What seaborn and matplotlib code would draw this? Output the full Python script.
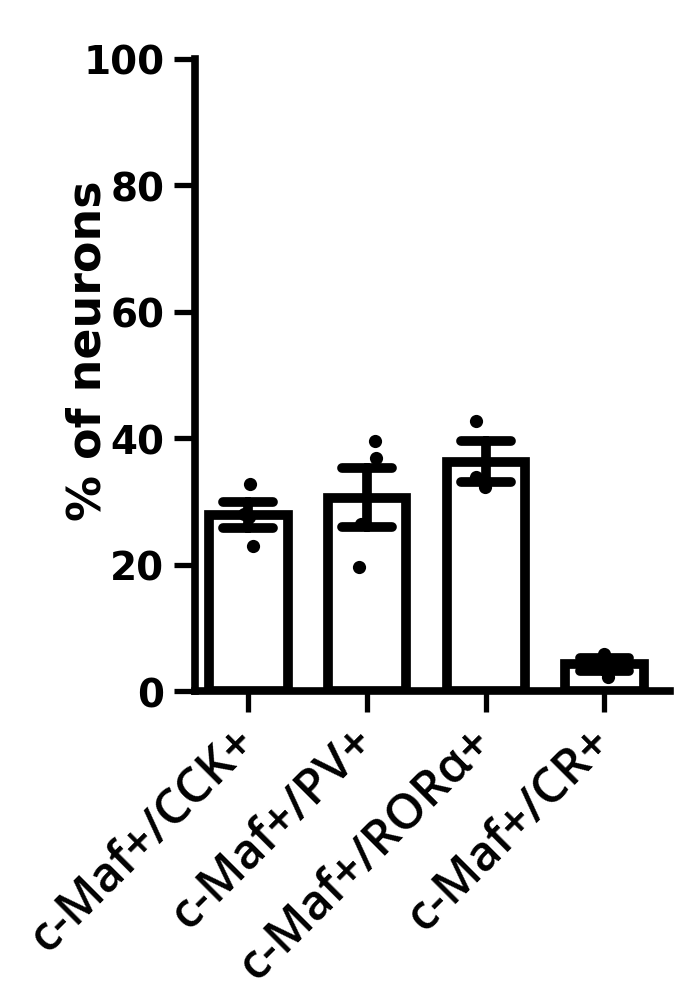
import numpy as np
import pandas as pd
import matplotlib
matplotlib.use("Agg")
import matplotlib.pyplot as plt
import matplotlib.transforms as mtransforms
import seaborn as sns

categories = ["c-Maf+/CCK+", "c-Maf+/PV+", "c-Maf+/RORα+", "c-Maf+/CR+"]
cck_values = [32.8, 23.0, 28.0, 27.5]
pv_values = [39.5, 36.8, 19.6, 26.5]
ror_values = [42.7, 32.3, 33.9]
cr_values = [5.9, 2.2, 4.5]
y_ticks = [0, 20, 40, 60, 80, 100]
y_label = "% of neurons"

rows = []
for cat, vals in zip(categories, [cck_values, pv_values, ror_values, cr_values]):
    for v in vals:
        rows.append({"group": cat, "value": v})
df = pd.DataFrame(rows)

sns.set_theme(style="ticks")
plt.rcParams["font.family"] = ["Open Sans", "DejaVu Sans"]
plt.rcParams["text.color"] = "black"
plt.rcParams["xtick.color"] = "black"
plt.rcParams["ytick.color"] = "black"
plt.rcParams["axes.labelcolor"] = "black"

fig = plt.figure(figsize=(6.94, 9.95), dpi=100)
ax = fig.add_axes([0.281, 0.3045, 0.684, 0.6352])

LW = 7.0
sns.barplot(data=df, x="group", y="value", order=categories, errorbar="se",
            capsize=0.42, width=0.66, color="white", edgecolor="black",
            linewidth=LW, saturation=1,
            err_kws={"color": "black", "linewidth": LW}, ax=ax)
np.random.seed(3)
sns.stripplot(data=df, x="group", y="value", order=categories, color="black",
              size=9.5, jitter=0.09, ax=ax, zorder=5)

ax.set_ylim(0, 100)
ax.set_xlim(-0.45, 3.55)
ax.set_yticks(y_ticks)
ax.set_yticklabels([str(t) for t in y_ticks], fontsize=28, fontweight="bold",
                   family="DejaVu Sans")
ax.set_xticks(range(len(categories)))
ax.set_xticklabels(categories, fontsize=35, fontweight="semibold",
                   rotation=45, ha="right", rotation_mode="anchor", va="center")
shift = mtransforms.ScaledTranslation(12 / 100, 0, fig.dpi_scale_trans)
for lab in ax.get_xticklabels():
    lab.set_transform(lab.get_transform() + shift)
ax.set_xlabel("")
ax.set_ylabel(y_label, fontsize=33, fontweight="bold", family="DejaVu Sans")
ax.yaxis.set_label_coords(-0.178, 0.54)

for s in ["top", "right"]:
    ax.spines[s].set_visible(False)
for s in ["left", "bottom"]:
    ax.spines[s].set_linewidth(5.5)
    ax.spines[s].set_color("black")
    ax.spines[s].set_capstyle("projecting")
ax.tick_params(axis="y", direction="out", length=15, width=3.8, pad=7, color="black")
ax.tick_params(axis="x", direction="out", length=15, width=3.8, pad=16, color="black")

fig.savefig("out.png", dpi=100, facecolor="white")
